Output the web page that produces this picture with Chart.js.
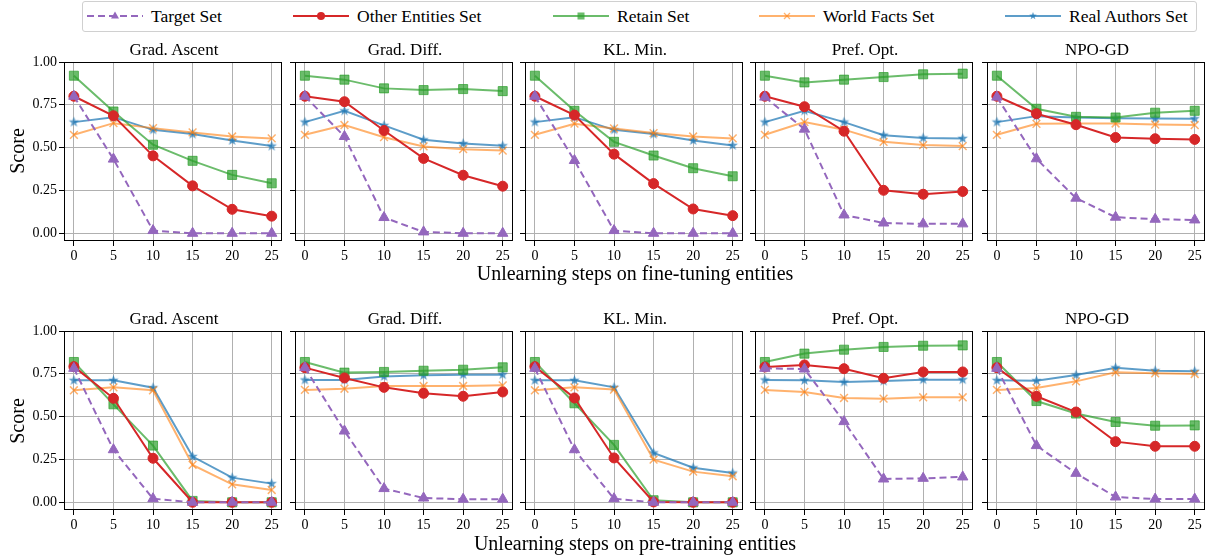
<!DOCTYPE html>
<html>
<head>
<meta charset="utf-8">
<script src="https://cdn.jsdelivr.net/npm/chart.js@4.4.1/dist/chart.umd.min.js"></script>
<style>
body { margin: 0; width: 1210px; height: 557px; background: #fff; position: relative; overflow: hidden;
       font-family: "Liberation Serif", "Times New Roman", serif; color: #000; }
.panel { position: absolute; }
.title { position: absolute; width: 220px; text-align: center; font-size: 17px; line-height: 20px; height: 20px; }
.ylab { position: absolute; width: 100px; height: 24px; line-height: 24px; text-align: center; font-size: 20px;
        transform: rotate(-90deg); }
.xlab { position: absolute; width: 800px; text-align: center; font-size: 20px; line-height: 24px; height: 24px; }
#legend { position: absolute; left: 82px; top: 1px; width: 1115px; height: 31px; border: 1px solid #d0d0d0;
          border-radius: 3px; box-sizing: border-box; }
.litem { position: absolute; top: 0; height: 30px; }
.litem svg { position: absolute; top: 5px; left: 0; }
.litem span { position: absolute; top: 2px; font-size: 17.5px; line-height: 24px; white-space: nowrap; }
</style>
</head>
<body>
<div id="legend"></div>
<script>
// Pasos de unlearning y ticks
const steps = [0, 5, 10, 15, 20, 25];
const yTicks = [0, 0.25, 0.5, 0.75, 1.0];
const methods = ['Grad. Ascent', 'Grad. Diff.', 'KL. Min.', 'Pref. Opt.', 'NPO-GD'];
const seriesNames = ['Target Set', 'Other Entities Set', 'Retain Set', 'World Facts Set', 'Real Authors Set'];
const rowLabels = ['Unlearning steps on fine-tuning entities', 'Unlearning steps on pre-training entities'];

// Fila 1: fine-tuning entities (una fila por método)
const ftTarget = [
    [0.80, 0.433, 0.016, 0, 0, 0],
    [0.80, 0.565, 0.092, 0.008, 0, 0],
    [0.80, 0.425, 0.016, 0, 0, 0],
    [0.795, 0.608, 0.107, 0.06, 0.055, 0.055],
    [0.795, 0.435, 0.205, 0.094, 0.082, 0.078]
];
const ftOther = [
    [0.80, 0.686, 0.452, 0.277, 0.14, 0.10],
    [0.80, 0.768, 0.60, 0.437, 0.339, 0.275],
    [0.80, 0.69, 0.462, 0.29, 0.142, 0.103],
    [0.80, 0.739, 0.596, 0.251, 0.228, 0.244],
    [0.80, 0.698, 0.634, 0.559, 0.552, 0.548]
];
const ftRetain = [
    [0.92, 0.711, 0.517, 0.423, 0.341, 0.292],
    [0.92, 0.897, 0.846, 0.836, 0.842, 0.830],
    [0.92, 0.715, 0.534, 0.454, 0.38, 0.333],
    [0.92, 0.881, 0.897, 0.912, 0.928, 0.932],
    [0.92, 0.727, 0.68, 0.676, 0.704, 0.715]
];
const ftWorld = [
    [0.575, 0.643, 0.614, 0.589, 0.565, 0.554],
    [0.575, 0.632, 0.561, 0.507, 0.491, 0.483],
    [0.575, 0.64, 0.612, 0.585, 0.565, 0.554],
    [0.575, 0.649, 0.605, 0.534, 0.515, 0.509],
    [0.575, 0.639, 0.641, 0.641, 0.635, 0.632]
];
const ftReal = [
    [0.649, 0.678, 0.604, 0.579, 0.542, 0.509],
    [0.649, 0.715, 0.63, 0.546, 0.524, 0.511],
    [0.649, 0.678, 0.604, 0.579, 0.542, 0.513],
    [0.649, 0.715, 0.649, 0.573, 0.557, 0.554],
    [0.649, 0.684, 0.676, 0.672, 0.67, 0.669]
];

// Fila 2: pre-training entities
const ptTarget = [
    [0.782, 0.307, 0.021, 0, 0, 0],
    [0.786, 0.416, 0.08, 0.025, 0.018, 0.018],
    [0.782, 0.307, 0.021, 0, 0, 0],
    [0.782, 0.778, 0.471, 0.136, 0.14, 0.148],
    [0.782, 0.331, 0.169, 0.031, 0.019, 0.019]
];
const ptOther = [
    [0.792, 0.607, 0.257, 0, 0, 0],
    [0.786, 0.726, 0.671, 0.636, 0.619, 0.644],
    [0.792, 0.609, 0.259, 0.002, 0, 0],
    [0.79, 0.802, 0.78, 0.724, 0.761, 0.761],
    [0.786, 0.619, 0.527, 0.354, 0.327, 0.327]
];
const ptRetain = [
    [0.819, 0.572, 0.331, 0.008, 0, 0],
    [0.819, 0.757, 0.761, 0.768, 0.774, 0.788],
    [0.819, 0.578, 0.335, 0.012, 0, 0],
    [0.819, 0.868, 0.891, 0.907, 0.914, 0.916],
    [0.819, 0.591, 0.518, 0.469, 0.447, 0.449]
];
const ptWorld = [
    [0.654, 0.671, 0.654, 0.218, 0.105, 0.072],
    [0.656, 0.663, 0.679, 0.679, 0.679, 0.683],
    [0.654, 0.671, 0.658, 0.249, 0.179, 0.152],
    [0.656, 0.644, 0.609, 0.605, 0.613, 0.613],
    [0.656, 0.667, 0.706, 0.759, 0.753, 0.749]
];
const ptReal = [
    [0.712, 0.712, 0.669, 0.267, 0.144, 0.109],
    [0.714, 0.714, 0.735, 0.741, 0.745, 0.745],
    [0.712, 0.712, 0.671, 0.288, 0.202, 0.171],
    [0.714, 0.712, 0.702, 0.708, 0.716, 0.716],
    [0.712, 0.71, 0.743, 0.786, 0.768, 0.765]
];

const rows = [
    [ftTarget, ftOther, ftRetain, ftWorld, ftReal],
    [ptTarget, ptOther, ptRetain, ptWorld, ptReal]
];

// Colores y estilos
const colors = ['#9467bd', '#d62728', 'rgba(44,160,44,0.7)', 'rgba(255,127,14,0.6)', 'rgba(31,119,180,0.72)'];

// Estrella rellena tipo matplotlib '*'
function makeStar(color, r) {
    const c = document.createElement('canvas');
    const s = Math.ceil(r * 2 + 2);
    c.width = s; c.height = s;
    const ctx = c.getContext('2d');
    ctx.fillStyle = color;
    ctx.beginPath();
    for (let i = 0; i < 10; i++) {
        const rad = i % 2 === 0 ? r : r * 0.42;
        const a = -Math.PI / 2 + i * Math.PI / 5;
        const px = s / 2 + rad * Math.cos(a), py = s / 2 + rad * Math.sin(a);
        if (i === 0) ctx.moveTo(px, py); else ctx.lineTo(px, py);
    }
    ctx.closePath();
    ctx.fill();
    return c;
}
const starImg = makeStar(colors[4], 5.5);

const styles = [
    { pointStyle: 'triangle', radius: 6, dash: [7, 4] },
    { pointStyle: 'circle', radius: 5, dash: [] },
    { pointStyle: 'rect', radius: 6.4, dash: [] },
    { pointStyle: 'crossRot', radius: 5.5, dash: [] },
    { pointStyle: starImg, radius: 6, dash: [] }
];

// Geometría de paneles
const lefts = [64, 295, 525, 755, 987];
const tops = [62, 331];
const PW = 220, PH = 179, YW = 45, XH = 25, PT = 15, PR = 5;

// Marco completo del área del gráfico
const framePlugin = {
    id: 'frame',
    afterDraw(chart) {
        const a = chart.chartArea, ctx = chart.ctx;
        ctx.save();
        ctx.strokeStyle = '#000';
        ctx.lineWidth = 1;
        ctx.strokeRect(Math.round(a.left) + 0.5, Math.round(a.top) + 0.5, Math.round(a.right - a.left) - 1, Math.round(a.bottom - a.top) - 1);
        ctx.restore();
    }
};

const font = { family: '"Liberation Serif", "Times New Roman", serif', size: 14 };

function addText(cls, text, left, top) {
    const d = document.createElement('div');
    d.className = cls;
    d.textContent = text;
    d.style.left = left + 'px';
    d.style.top = top + 'px';
    document.body.appendChild(d);
}

rows.forEach((rowData, r) => {
    const T = tops[r];
    methods.forEach((m, c) => {
        const L = lefts[c];
        const canvas = document.createElement('canvas');
        canvas.className = 'panel';
        canvas.width = YW + PW + PR;
        canvas.height = PT + PH + XH;
        canvas.style.left = (L - YW) + 'px';
        canvas.style.top = (T - PT) + 'px';
        document.body.appendChild(canvas);

        const datasets = rowData.map((series, i) => ({
            label: seriesNames[i],
            data: steps.map((x, k) => ({ x: x, y: series[c][k] })),
            borderColor: colors[i],
            backgroundColor: colors[i],
            borderWidth: 2,
            borderDash: styles[i].dash,
            pointStyle: styles[i].pointStyle,
            pointRadius: styles[i].radius,
            pointBorderWidth: i === 3 ? 1.5 : 1,
            pointBorderColor: colors[i],
            pointBackgroundColor: colors[i],
            tension: 0,
            fill: false
        }));

        new Chart(canvas, {
            type: 'line',
            data: { datasets: datasets },
            options: {
                responsive: false,
                animation: false,
                devicePixelRatio: 1,
                layout: { padding: { top: PT, right: PR, left: 0, bottom: 0 } },
                plugins: { legend: { display: false }, tooltip: { enabled: false } },
                scales: {
                    x: {
                        type: 'linear',
                        min: -1.25,
                        max: 26.25,
                        afterBuildTicks: s => { s.ticks = steps.map(v => ({ value: v })); },
                        afterFit: s => { s.height = XH; },
                        ticks: { color: '#000', font: font, padding: 2, maxRotation: 0, callback: v => String(v) },
                        grid: { color: '#b0b0b0', lineWidth: 1, tickColor: '#000', tickLength: 5 },
                        border: { display: false }
                    },
                    y: {
                        type: 'linear',
                        min: -0.045,
                        max: 1.0,
                        afterBuildTicks: s => { s.ticks = yTicks.map(v => ({ value: v })); },
                        afterFit: s => { s.width = YW; },
                        ticks: { display: c === 0, color: '#000', font: font, padding: 2, callback: v => v.toFixed(2) },
                        grid: { color: '#b0b0b0', lineWidth: 1, tickColor: '#000', tickLength: 5 },
                        border: { display: false }
                    }
                }
            },
            plugins: [framePlugin]
        });

        addText('title', m, L, (r === 0 ? 50 : 319) - 10);
    });
    addText('ylab', 'Score', 17 - 50, (r === 0 ? 151 : 421) - 12);
    addText('xlab', rowLabels[r], 635 - 400, (r === 0 ? 273 : 543) - 12);
});

// Leyenda
const legendLine = [87, 293, 553, 759, 1005];
const legend = document.getElementById('legend');
function markerSvg(i) {
    const col = colors[i];
    const cx = 28, cy = 9;
    if (i === 0) return `<polygon points="${cx},${cy - 4.5} ${cx - 4},${cy + 2.5} ${cx + 4},${cy + 2.5}" fill="${col}"/>`;
    if (i === 1) return `<circle cx="${cx}" cy="${cy}" r="4" fill="${col}"/>`;
    if (i === 2) return `<rect x="${cx - 3.5}" y="${cy - 3.5}" width="7" height="7" fill="${col}"/>`;
    if (i === 3) return `<path d="M${cx - 3},${cy - 3}L${cx + 3},${cy + 3}M${cx - 3},${cy + 3}L${cx + 3},${cy - 3}" stroke="${col}" stroke-width="1.3"/>`;
    let pts = [];
    for (let k = 0; k < 10; k++) {
        const rad = k % 2 === 0 ? 4 : 1.7;
        const a = -Math.PI / 2 + k * Math.PI / 5;
        pts.push((cx + rad * Math.cos(a)).toFixed(2) + ',' + (cy + rad * Math.sin(a)).toFixed(2));
    }
    return `<polygon points="${pts.join(' ')}" fill="${col}"/>`;
}
seriesNames.forEach((name, i) => {
    const item = document.createElement('div');
    item.className = 'litem';
    item.style.left = (legendLine[i] - 83) + 'px';
    const dash = i === 0 ? 'stroke-dasharray="7,4"' : '';
    item.innerHTML = `<svg width="56" height="18"><line x1="0" y1="9" x2="56" y2="9" stroke="${colors[i]}" stroke-width="2" ${dash}/>${markerSvg(i)}</svg><span style="left:64px">${name}</span>`;
    legend.appendChild(item);
});
</script>
</body>
</html>
